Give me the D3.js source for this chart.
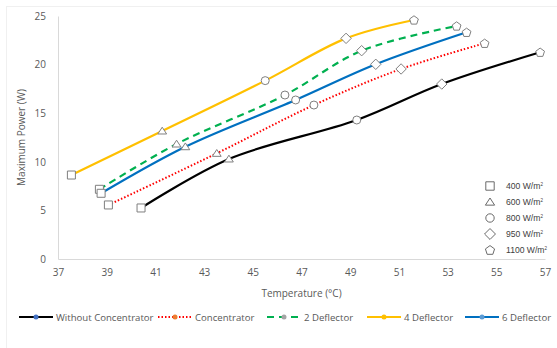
<!DOCTYPE html>
<html>
<head>
<meta charset="utf-8">
<script src="https://cdn.jsdelivr.net/npm/d3@7"></script>
<style>
  body { margin: 0; background: #fff; }
  svg text { font-family: "Open Sans", "Noto Sans", sans-serif; }
</style>
</head>
<body>
<div id="chart"></div>
<script>
// series: [temperature, power] per irradiance level
const seriesNames = ["Without Concentrator", "Concentrator", "2 Deflector", "4 Deflector", "6 Deflector"];
const withoutConcentrator = [[40.41, 5.25], [44.02, 10.29], [49.27, 14.3], [52.76, 18.0], [56.8, 21.27]];
const concentrator = [[39.07, 5.56], [43.52, 10.87], [47.51, 15.84], [51.09, 19.55], [54.52, 22.19]];
const deflector2 = [[38.7, 7.17], [41.87, 11.83], [46.32, 16.87], [49.47, 21.43], [53.37, 23.97]];
const deflector4 = [[37.55, 8.64], [41.28, 13.17], [45.51, 18.35], [48.83, 22.7], [51.62, 24.59]];
const deflector6 = [[38.77, 6.76], [42.23, 11.55], [46.76, 16.36], [50.05, 20.03], [53.78, 23.32]];
const irradiance = ["400", "600", "800", "950", "1100"];
const xTicks = [37, 39, 41, 43, 45, 47, 49, 51, 53, 55, 57];
const yTicks = [0, 5, 10, 15, 20, 25];

const allSeries = [withoutConcentrator, concentrator, deflector2, deflector4, deflector6];
const lineColors = ["#000000", "#ff0000", "#00b050", "#ffc000", "#0070c0"];
const dashes = [null, "1.5,2", "7,5", null, null];
const dotColors = ["#4472c4", "#ed7d31", "#a5a5a5", "#ffc000", "#5b9bd5"];

const width = 557, height = 348;
const margin = {top: 16, right: 12, bottom: 89, left: 58};

const svg = d3.select("#chart").append("svg")
    .attr("width", width)
    .attr("height", height);

// faint chart-area border
svg.append("rect")
    .attr("x", 6.5).attr("y", 6.5)
    .attr("width", width).attr("height", height)
    .attr("fill", "none")
    .attr("stroke", "#f0f0f0");

const x = d3.scaleLinear().domain([37, 57]).range([margin.left, width - margin.right]);
const y = d3.scaleLinear().domain([0, 25]).range([height - margin.bottom, margin.top]);

// axes
const xAxis = d3.axisBottom(x).tickValues(xTicks).tickSize(0).tickPadding(10);
const yAxis = d3.axisLeft(y).tickValues(yTicks).tickSize(0).tickPadding(12);

const xg = svg.append("g").attr("transform", `translate(0,${y(0)})`).call(xAxis);
const yg = svg.append("g").attr("transform", `translate(${x(37)},0)`).call(yAxis);
[xg, yg].forEach(g => {
  g.select(".domain").attr("stroke", "#d9d9d9").attr("stroke-width", 1);
  g.selectAll(".tick text").attr("fill", "#595959").style("font-size", "10px");
});

svg.append("text")
    .attr("x", x(47)).attr("y", 297)
    .attr("text-anchor", "middle")
    .attr("fill", "#595959")
    .style("font-size", "10px")
    .text("Temperature (°C)");

svg.append("text")
    .attr("transform", `translate(25,${(y(0) + y(25)) / 2}) rotate(-90)`)
    .attr("text-anchor", "middle")
    .attr("fill", "#595959")
    .style("font-size", "10px")
    .text("Maximum Power (W)");

// marker shapes as simple polygons, s = half width
function markerPath(i, s) {
  switch (i) {
    case 0: return `M${-s},${-s}H${s}V${s}H${-s}Z`;
    case 1: return `M0,${-s * 0.95}L${s * 1.1},${s * 0.75}H${-s * 1.1}Z`;
    case 2: return d3.symbol(d3.symbolCircle, Math.PI * s * s)();
    case 3: return `M0,${-s * 1.3}L${s * 1.3},0L0,${s * 1.3}L${-s * 1.3},0Z`;
    default: {
      const pts = d3.range(5).map(j => {
        const a = -Math.PI / 2 + j * 2 * Math.PI / 5;
        return [s * 1.15 * Math.cos(a), s * 1.15 * Math.sin(a) + s * 0.1];
      });
      return "M" + pts.map(p => p.join(",")).join("L") + "Z";
    }
  }
}

const line = d3.line()
    .x(d => x(d[0]))
    .y(d => y(d[1]))
    .curve(d3.curveCatmullRom.alpha(0.5));

allSeries.forEach((s, k) => {
  svg.append("path")
      .datum(s)
      .attr("d", line)
      .attr("fill", "none")
      .attr("stroke", lineColors[k])
      .attr("stroke-width", k === 1 ? 2 : 2.2)
      .attr("stroke-dasharray", dashes[k]);
});

allSeries.forEach(s => {
  svg.selectAll(null)
      .data(s)
      .join("path")
      .attr("transform", d => `translate(${x(d[0])},${y(d[1])})`)
      .attr("d", (d, i) => markerPath(i, 4))
      .attr("fill", "#ffffff")
      .attr("stroke", "#7f7f7f")
      .attr("stroke-width", 1);
});

// marker legend
const mLeg = svg.append("g");
irradiance.forEach((v, i) => {
  const yy = 186 + i * 16;
  mLeg.append("path")
      .attr("transform", `translate(490,${yy})`)
      .attr("d", markerPath(i, 4.2))
      .attr("fill", "none")
      .attr("stroke", "#595959")
      .attr("stroke-width", 0.9);
  const t = mLeg.append("text")
      .attr("x", 506).attr("y", yy + 3)
      .attr("fill", "#404040")
      .style("font-size", "8.6px")
      .style("font-family", "Liberation Sans, Arial, sans-serif")
      .text(`${v} W/m`);
  t.append("tspan")
      .attr("dy", -3.5)
      .style("font-size", "4.5px")
      .text("2");
});

// series legend
const legendX = [19, 158, 267, 367, 465];
const legY = 317;
seriesNames.forEach((name, k) => {
  const g = svg.append("g").attr("transform", `translate(${legendX[k]},${legY})`);
  g.append("line")
      .attr("x1", 0).attr("x2", 34)
      .attr("stroke", lineColors[k])
      .attr("stroke-width", k === 1 ? 2 : 2.2)
      .attr("stroke-dasharray", dashes[k]);
  g.append("circle")
      .attr("cx", 17).attr("r", 2.5)
      .attr("fill", dotColors[k]);
  g.append("text")
      .attr("x", 37).attr("y", 3.5)
      .attr("fill", "#595959")
      .style("font-size", "9.6px")
      .text(name);
});
</script>
</body>
</html>
